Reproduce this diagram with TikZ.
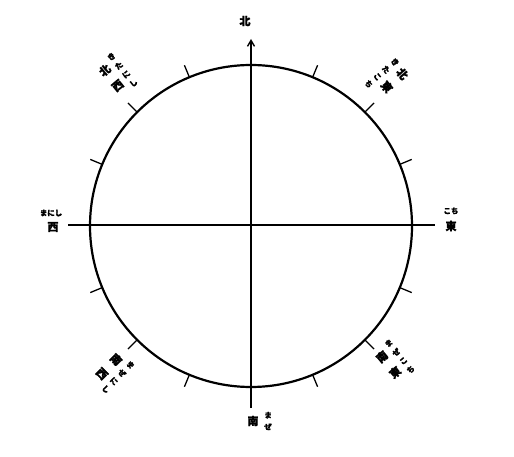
\documentclass[tikz,border=0pt]{standalone}
\usepackage{fontspec}
\newfontfamily\cjk{Noto Sans CJK JP}[FakeBold=1.6]
\usetikzlibrary{arrows.meta}
\newcommand\kanjiF{\cjk\bfseries\fontsize{11}{11}\selectfont}
\newcommand\kanaF{\cjk\bfseries\fontsize{7.5}{7.5}\selectfont}
\newcommand\kstack[1]{$\vcenter{\hbox{\shortstack{#1}}}$}
\newcommand\mainpair[2]{{\kanjiF\kstack{#1\\[7pt]#2}}}
\newcommand\rubyfour[4]{{\kanaF\kstack{#1\\[2pt]#2\\[2pt]#3\\[2pt]#4}}}
\begin{document}
\begin{tikzpicture}[x=1pt,y=1pt,
  kanji/.style={font=\kanjiF, inner sep=0pt},
  kana/.style={font=\kanaF, inner sep=0pt},
  label/.style={inner sep=0pt},
  axisline/.style={line width=1.4pt},
  tickline/.style={line width=1.3pt},
  rim/.style={line width=2.2pt}]
\useasboundingbox (0,0) rectangle (514,-457);
\coordinate (O) at (251,-226);
\coordinate (Wend) at (68,-225);
\coordinate (Eend) at (435,-225);
\coordinate (Send) at (251,-408);
\coordinate (Nend) at (251,-39);
\draw[rim] (O) circle (161);
\draw[axisline] (Wend) -- (Eend);
\draw[axisline, -{Straight Barb[length=6pt,width=7pt]}] (Send) -- (Nend);
\foreach \a in {22.5,45,67.5,112.5,135,157.5,202.5,225,247.5,292.5,315,337.5}
  \draw[tickline, shift={(O)}] (\a:161) -- (\a:174);
% cardinal labels
\node[kanji] (n) at (245,-21) {北};
\node[kanji] (w) at (53,-227) {西};
\node[kana] (wr) at (51,-213) {まにし};
\node[kanji] (e) at (451,-226) {東};
\node[kana] (er) at (451,-211) {こち};
\node[kanji] (s) at (253,-421) {南};
\node[label] (sr) at (268,-421) {\kanaF\kstack{ま\\[2pt]ぜ}};
% north-west
\begin{scope}[shift={(111.5,-79)}, rotate=40]
  \node[label, rotate=40] (nw) at (6.5,0) {\mainpair{北}{西}\hspace{4.5pt}\rubyfour{き}{た}{に}{し}};
\end{scope}
% north-east
\begin{scope}[shift={(391,-84)}, rotate=-50]
  \node[label, rotate=-50] (ne) at (-6.5,0) {\raisebox{-4pt}{\rubyfour{き}{た}{こ}{ち}}\hspace{4.5pt}\mainpair{北}{東}};
\end{scope}
% south-west
\begin{scope}[shift={(108,-367)}, rotate=-45]
  \node[label, rotate=-45] (sw) at (6.5,0) {\mainpair{南}{西}\hspace{4.5pt}\rubyfour{ま}{ぜ}{に}{し}};
\end{scope}
% south-east
\begin{scope}[shift={(388.5,-366)}, rotate=40]
  \node[label, rotate=40] (se) at (7,0) {\mainpair{南}{東}\hspace{4.5pt}\rubyfour{ま}{ぜ}{こ}{ち}};
\end{scope}
\end{tikzpicture}
\end{document}
